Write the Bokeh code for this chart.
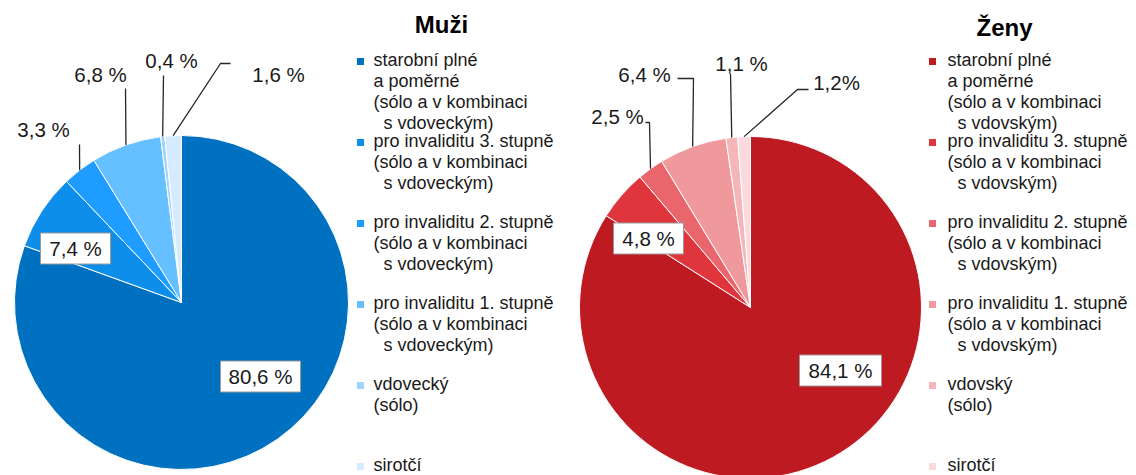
import math
from bokeh.plotting import figure
from bokeh.models import Range1d
from bokeh.embed import file_html
from bokeh.resources import INLINE
from bokeh.core.properties import value

# ---------------- data ----------------
categories = ["starobní plné a poměrné", "pro invaliditu 3. stupně",
              "pro invaliditu 2. stupně", "pro invaliditu 1. stupně",
              "vdovecký / vdovský (sólo)", "sirotčí"]
men_values = [80.6, 7.4, 3.3, 6.8, 0.4, 1.6]
women_values = [84.1, 4.8, 2.5, 6.4, 1.1, 1.2]
men_labels = ["80,6 %", "7,4 %", "3,3 %", "6,8 %", "0,4 %", "1,6 %"]
women_labels = ["84,1 %", "4,8 %", "2,5 %", "6,4 %", "1,1 %", "1,2%"]
men_title = "Muži"
women_title = "Ženy"
NB = "\u00a0\u00a0"
men_legend = [
    ["starobní plné", "a poměrné", "(sólo a v kombinaci", NB + "s vdoveckým)"],
    ["pro invaliditu 3. stupně", "(sólo a v kombinaci", NB + "s vdoveckým)"],
    ["pro invaliditu 2. stupně", "(sólo a v kombinaci", NB + "s vdoveckým)"],
    ["pro invaliditu 1. stupně", "(sólo a v kombinaci", NB + "s vdoveckým)"],
    ["vdovecký", "(sólo)"],
    ["sirotčí"],
]
women_legend = [
    ["starobní plné", "a poměrné", "(sólo a v kombinaci", NB + "s vdovským)"],
    ["pro invaliditu 3. stupně", "(sólo a v kombinaci", NB + "s vdovským)"],
    ["pro invaliditu 2. stupně", "(sólo a v kombinaci", NB + "s vdovským)"],
    ["pro invaliditu 1. stupně", "(sólo a v kombinaci", NB + "s vdovským)"],
    ["vdovský", "(sólo)"],
    ["sirotčí"],
]
men_colors = ["#0070C0", "#0C8EEA", "#1E9CFF", "#66BFFF", "#9DD5FF", "#D6EBFF"]
women_colors = ["#BE1A22", "#DF363E", "#E8666C", "#F0999D", "#F4B6B9", "#FADADC"]

# ---------------- layout ----------------
W, H = 1136, 475
FONT = "Liberation Sans"

def Y(img_y):
    return H - img_y

p = figure(width=W, height=H, output_backend="svg", toolbar_location=None,
           x_range=Range1d(0, W), y_range=Range1d(0, H),
           x_axis_location=None, y_axis_location=None, min_border=0,
           outline_line_color=None, background_fill_color="white")
p.xgrid.visible = False
p.ygrid.visible = False

pies = [
    dict(values=men_values, labels=men_labels, colors=men_colors, legend=men_legend,
         title=men_title, cx=181, cy=302, r=167,
         inside=[(79, 74, 80), (-106, -54, 70)],
         outside={2: ([(-102, -158)], (-138, -173)),
                  3: ([(-56, -214)], (-81, -228)),
                  4: ([(-18, -227)], (-10, -242)),
                  5: ([(39, -239), (49, -239)], (97, -228))},
         title_pos=(441, 24), mark_x=360, text_x=373),
    dict(values=women_values, labels=women_labels, colors=women_colors, legend=women_legend,
         title=women_title, cx=750, cy=307, r=171,
         inside=[(90, 63, 82), (-102, -69, 70)],
         outside={2: ([(-101, -185), (-105, -185)], (-133, -191)),
                  3: ([(-57, -229), (-73, -229)], (-106, -233)),
                  4: ([(-20, -234)], (-9, -244)),
                  5: ([(47, -218), (58, -218)], (86, -225))},
         title_pos=(1004, 27), mark_x=932, text_x=947),
]

ITEM_START, ITEM_STEP, LINE_STEP = 59, 81, 21

for pie in pies:
    vals = pie["values"]
    total = sum(vals)
    cum = [0.0]
    for v in vals:
        cum.append(cum[-1] + v / total)
    starts = [math.pi / 2 - 2 * math.pi * cum[i + 1] for i in range(len(vals))]
    ends = [math.pi / 2 - 2 * math.pi * cum[i] for i in range(len(vals))]
    cx, cy, r = pie["cx"], pie["cy"], pie["r"]
    p.wedge(x=[cx] * len(vals), y=[Y(cy)] * len(vals), radius=r,
            start_angle=starts, end_angle=ends, direction="anticlock",
            fill_color=pie["colors"], line_color="white", line_width=1)

    # inside labels with white boxes
    for i, (dx, dy, bw) in enumerate(pie["inside"]):
        bx, by = cx + dx, Y(cy + dy)
        p.rect(x=[bx], y=[by], width=bw, height=31, width_units="screen",
               height_units="screen", fill_color="white", line_color="#9a9a9a",
               line_width=1)
        p.text(x=[bx], y=[by], text=[pie["labels"][i]], text_align="center",
               text_baseline="middle", text_font=value(FONT),
               text_font_size="20.5px", text_color="#1a1a1a")

    # outside labels with leader lines
    for i, (wps, (lx, ly)) in pie["outside"].items():
        mid = (cum[i] + cum[i + 1]) / 2 * 2 * math.pi
        sx = cx + r * math.sin(mid)
        sy = cy - r * math.cos(mid)
        xs = [sx] + [cx + a for a, b in wps]
        ys = [Y(sy)] + [Y(cy + b) for a, b in wps]
        p.line(x=xs, y=ys, line_color="#262626", line_width=1.3)
        p.text(x=[cx + lx], y=[Y(cy + ly)], text=[pie["labels"][i]],
               text_align="center", text_baseline="middle",
               text_font=value(FONT), text_font_size="20.5px", text_color="#1a1a1a")

    # title
    tx, ty = pie["title_pos"]
    p.text(x=[tx], y=[Y(ty)], text=[pie["title"]], text_align="center",
           text_baseline="middle", text_font=value(FONT), text_font_size="24px",
           text_font_style="bold", text_color="#000000")

    # legend
    for k, lines in enumerate(pie["legend"]):
        top = ITEM_START + ITEM_STEP * k
        p.rect(x=[pie["mark_x"]], y=[Y(top + 2)], width=7, height=7,
               width_units="screen", height_units="screen",
               fill_color=pie["colors"][k], line_color=None)
        for j, line in enumerate(lines):
            p.text(x=[pie["text_x"]], y=[Y(top + LINE_STEP * j)], text=[line],
                   text_align="left", text_baseline="middle",
                   text_font=value(FONT), text_font_size="18px",
                   text_color="#1a1a1a")

open("out.html", "w").write(file_html(p, INLINE))
